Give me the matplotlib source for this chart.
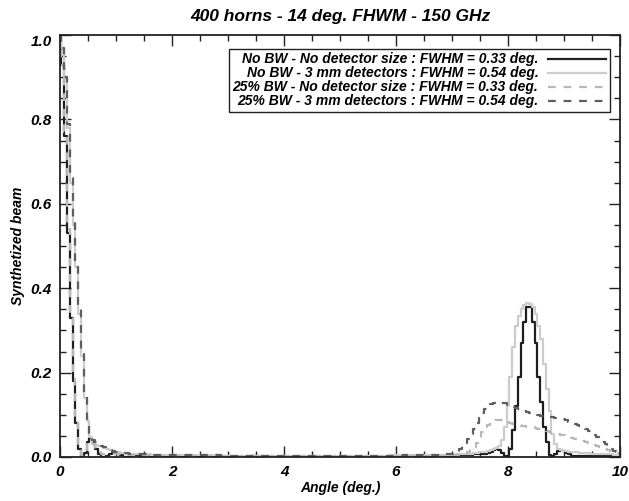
import numpy as np
import matplotlib
matplotlib.use("Agg")
import matplotlib.pyplot as plt

plt.rcParams['font.family'] = ['Liberation Sans Narrow', 'Liberation Sans', 'DejaVu Sans']
plt.rcParams['font.weight'] = 'bold'
plt.rcParams['font.style'] = 'italic'
plt.rcParams['axes.titleweight'] = 'bold'
plt.rcParams['axes.labelweight'] = 'bold'

# sampling grid (deg.): fine near the two peaks, coarse in the flat middle
x_near = np.round(np.arange(0.0, 1.501, 0.05), 2)
x_mid = np.round(np.arange(1.75, 6.76, 0.25), 2)
x_far = np.round(np.arange(7.0, 10.001, 0.05), 2)
angle = np.concatenate([x_near, x_mid, x_far])

# No BW - No detector size
nobw_nodet = [
    1.0, 0.93, 0.76, 0.53, 0.33, 0.18, 0.08, 0.02, 0.0, 0.01, 0.035,
    0.045, 0.035, 0.02, 0.008, 0.001, 0.0, 0.003, 0.008, 0.01, 0.01,
    0.007, 0.004, 0.001, 0.0, 0.002, 0.004, 0.005, 0.004, 0.003, 0.002,
    # middle
    0.002, 0.003, 0.002, 0.001, 0.002, 0.001, 0.001, 0.002, 0.001, 0.001, 0.001,
    0.001, 0.001, 0.001, 0.001, 0.001, 0.001, 0.002, 0.002, 0.002, 0.003,
    # far
    0.003, 0.003, 0.004, 0.004, 0.004, 0.005, 0.005, 0.005, 0.006, 0.006, 0.006,
    0.007, 0.008, 0.010, 0.012, 0.016, 0.018, 0.016, 0.010, 0.003, 0.0,
    0.02, 0.065, 0.12, 0.19, 0.27, 0.32, 0.355, 0.355, 0.32, 0.27,
    0.19, 0.13, 0.07, 0.035, 0.005, 0.002, 0.008, 0.015, 0.017, 0.014,
    0.010, 0.006, 0.003, 0.002, 0.002, 0.003, 0.003, 0.003, 0.002, 0.002,
    0.002, 0.002, 0.002, 0.002, 0.002, 0.002, 0.002, 0.002, 0.002, 0.002,
]

# No BW - 3 mm detectors
nobw_3mm = [
    1.0, 0.97, 0.90, 0.78, 0.65, 0.55, 0.45, 0.34, 0.24, 0.14, 0.085,
    0.048, 0.03, 0.028, 0.027, 0.025, 0.022, 0.02, 0.017, 0.014, 0.012,
    0.011, 0.01, 0.009, 0.008, 0.008, 0.007, 0.007, 0.006, 0.006, 0.006,
    # middle
    0.005, 0.005, 0.004, 0.004, 0.004, 0.003, 0.003, 0.003, 0.003, 0.003, 0.003,
    0.003, 0.003, 0.003, 0.003, 0.003, 0.003, 0.004, 0.004, 0.004, 0.004,
    # far
    0.005, 0.005, 0.006, 0.006, 0.007, 0.007, 0.008, 0.008, 0.009, 0.010, 0.011,
    0.012, 0.013, 0.015, 0.017, 0.020, 0.022, 0.025, 0.04, 0.07, 0.12,
    0.19, 0.26, 0.31, 0.335, 0.35, 0.36, 0.365, 0.362, 0.355, 0.34,
    0.31, 0.28, 0.22, 0.16, 0.11, 0.055, 0.03, 0.018, 0.016, 0.015,
    0.014, 0.013, 0.012, 0.011, 0.011, 0.010, 0.010, 0.009, 0.009, 0.008,
    0.008, 0.007, 0.007, 0.007, 0.006, 0.006, 0.006, 0.005, 0.005, 0.005,
]

# 25% BW - No detector size
bw25_nodet = [
    1.0, 0.93, 0.77, 0.54, 0.34, 0.19, 0.085, 0.025, 0.005, 0.015, 0.03,
    0.035, 0.03, 0.02, 0.012, 0.008, 0.007, 0.007, 0.008, 0.008, 0.008,
    0.007, 0.006, 0.005, 0.004, 0.004, 0.004, 0.004, 0.004, 0.003, 0.003,
    # middle
    0.003, 0.002, 0.002, 0.002, 0.002, 0.002, 0.002, 0.002, 0.002, 0.002, 0.002,
    0.002, 0.002, 0.002, 0.002, 0.002, 0.002, 0.002, 0.002, 0.002, 0.003,
    # far
    0.003, 0.004, 0.004, 0.005, 0.006, 0.008, 0.011, 0.016, 0.024, 0.033, 0.046,
    0.06, 0.07, 0.077, 0.082, 0.086, 0.087, 0.088, 0.087, 0.085, 0.083,
    0.081, 0.079, 0.077, 0.075, 0.074, 0.073, 0.072, 0.071, 0.07, 0.069,
    0.067, 0.066, 0.064, 0.062, 0.06, 0.058, 0.056, 0.055, 0.053, 0.051,
    0.049, 0.047, 0.045, 0.043, 0.041, 0.039, 0.037, 0.035, 0.033, 0.031,
    0.029, 0.026, 0.024, 0.021, 0.019, 0.016, 0.014, 0.012, 0.01, 0.008,
]

# 25% BW - 3 mm detectors
bw25_3mm = [
    1.0, 0.97, 0.90, 0.79, 0.66, 0.56, 0.46, 0.35, 0.245, 0.145, 0.09,
    0.05, 0.04, 0.035, 0.03, 0.027, 0.023, 0.02, 0.017, 0.015, 0.013,
    0.012, 0.011, 0.01, 0.009, 0.008, 0.008, 0.007, 0.007, 0.006, 0.006,
    # middle
    0.005, 0.005, 0.004, 0.004, 0.004, 0.003, 0.003, 0.003, 0.003, 0.003, 0.003,
    0.003, 0.003, 0.003, 0.003, 0.003, 0.003, 0.003, 0.004, 0.004, 0.005,
    # far
    0.006, 0.008, 0.013, 0.02, 0.027, 0.034, 0.043, 0.055, 0.066, 0.08, 0.093,
    0.105, 0.114, 0.12, 0.125, 0.128, 0.13, 0.13, 0.129, 0.127, 0.124,
    0.121, 0.118, 0.115, 0.113, 0.111, 0.109, 0.107, 0.105, 0.103, 0.101,
    0.099, 0.098, 0.097, 0.096, 0.095, 0.094, 0.093, 0.092, 0.091, 0.089,
    0.087, 0.084, 0.081, 0.078, 0.076, 0.073, 0.069, 0.066, 0.062, 0.058,
    0.053, 0.048, 0.042, 0.036, 0.03, 0.025, 0.02, 0.015, 0.012, 0.01,
]

labels = [
    "No BW - No detector size : FWHM = 0.33 deg.",
    "No BW - 3 mm detectors : FWHM = 0.54 deg.",
    "25% BW - No detector size : FWHM = 0.33 deg.",
    "25% BW - 3 mm detectors : FWHM = 0.54 deg.",
]
xticks = [0, 2, 4, 6, 8, 10]
yticks = [0.0, 0.2, 0.4, 0.6, 0.8, 1.0]

fig = plt.figure(figsize=(6.29, 5.01), dpi=100)
ax = fig.add_axes([60 / 629, 44 / 501, 560 / 629, 422 / 501])

ax.plot(angle, nobw_nodet, drawstyle='steps-mid', color='#1e1e1e', lw=1.6, label=labels[0])
ax.plot(angle, nobw_3mm, drawstyle='steps-mid', color='#cccccc', lw=1.6, label=labels[1])
ax.plot(angle, bw25_nodet, drawstyle='steps-mid', color='#b8b8b8', lw=1.6,
        dashes=(3.5, 3.5), label=labels[2])
ax.plot(angle, bw25_3mm, drawstyle='steps-mid', color='#5e5e5e', lw=1.6,
        dashes=(3.5, 3.5), label=labels[3])

ax.set_xlim(0, 10)
ax.set_ylim(0, 1.0)
ax.set_xticks(xticks)
ax.set_xticklabels([str(t) for t in xticks])
ax.set_xticks(np.arange(0, 10.01, 0.5), minor=True)
ax.set_yticks(yticks)
ax.set_yticklabels(['%.1f' % t for t in yticks])
ax.set_yticks(np.arange(0, 1.001, 0.05), minor=True)
ax.tick_params(which='both', direction='in', top=True, right=True, labelsize=11,
               width=1.0, color='#222222')
ax.tick_params(which='major', length=8, pad=6)
ax.tick_params(which='minor', length=4)
# IDL-style: top label sits just inside the frame
ax.get_yticklabels()[-1].set_va('top')
for sp in ax.spines.values():
    sp.set_linewidth(1.3)
    sp.set_color('#222222')

ax.set_title("400 horns - 14 deg. FHWM - 150 GHz", fontsize=12.5, pad=10)
ax.set_xlabel("Angle (deg.)", fontsize=10, labelpad=1)
ax.set_ylabel("Synthetized beam", fontsize=10, labelpad=4)

leg = ax.legend(loc='upper right', bbox_to_anchor=(0.982, 0.967), markerfirst=False,
                fontsize=10, frameon=True, fancybox=False, framealpha=1,
                edgecolor='#222222', borderpad=0.25, labelspacing=0.0,
                handlelength=4.2, handletextpad=0.7, borderaxespad=0)
leg.get_frame().set_linewidth(1.0)

fig.savefig("out.png", dpi=100)
